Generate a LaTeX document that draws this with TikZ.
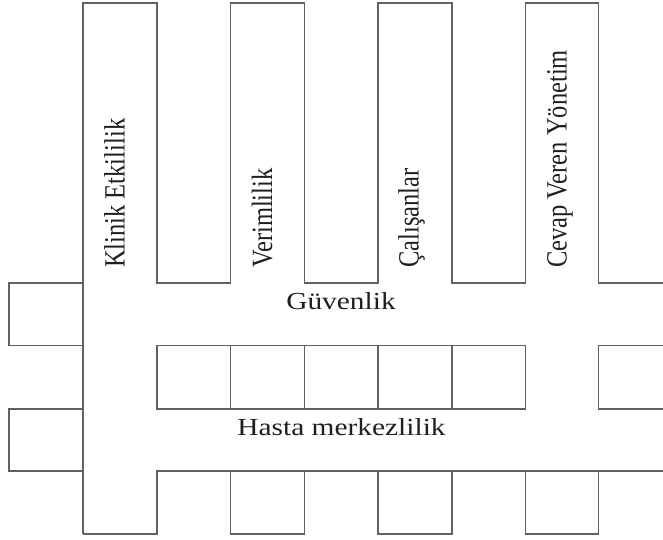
\documentclass[tikz,border=0pt]{standalone}
\usepackage{fontspec}
\setmainfont{Liberation Serif}
\begin{document}
\begin{tikzpicture}[x=1pt, y=-1pt,
  wall/.style={draw=black!62, line width=1.5pt, line join=miter},
  lbl/.style={font=\fontsize{24.5}{29}\selectfont, text=black!88, inner sep=0pt},
  vlbl/.style={lbl, xscale=1.2, rotate=90, anchor=base west},
  hlbl/.style={lbl, xscale=1.2, anchor=base}]
  \useasboundingbox (0,0) rectangle (663,539);

  % column edges
  \def\ca{83}   \def\cb{157}  \def\cc{230.5} \def\cd{304.5}
  \def\ce{378}  \def\cf{452}  \def\cg{525.5} \def\ch{598.5}
  % band edges
  \def\ra{283}  \def\rb{345.5} \def\rc{409} \def\rd{471} \def\re{534}

  % top comb: the four pillars and the upper edge of Güvenlik
  \draw[wall] (\ca,\re) -- (\ca,3) -- (\cb,3) -- (\cb,\ra) -- (\cc,\ra)
    -- (\cc,3) -- (\cd,3) -- (\cd,\ra) -- (\ce,\ra) -- (\ce,3) -- (\cf,3)
    -- (\cf,\ra) -- (\cg,\ra) -- (\cg,3) -- (\ch,3) -- (\ch,\ra) -- (663,\ra);

  % foot of the first pillar and lower edge of Hasta merkezlilik
  \draw[wall] (\ca,\re) -- (\cb,\re) -- (\cb,\rd) -- (663,\rd);
  \draw[wall] (\cg,\rd) -- (\cg,\re) -- (\ch,\re) -- (\ch,\rd);

  % row of cells between the two bands
  \foreach \l/\r in {\cb/\cc, \cc/\cd, \cd/\ce, \ce/\cf, \cf/\cg}
    \draw[wall] (\l,\rb) rectangle (\r,\rc);
  \draw[wall] (663,\rb) -- (\ch,\rb) -- (\ch,\rc) -- (663,\rc);

  % cells below Hasta merkezlilik
  \draw[wall] (\cc,\rd) rectangle (\cd,\re);
  \draw[wall] (\ce,\rd) rectangle (\cf,\re);

  % cells left of the first pillar
  \draw[wall] (\ca,\ra) -- (9,\ra) -- (9,\rb) -- (\ca,\rb);
  \draw[wall] (\ca,\rc) -- (9,\rc) -- (9,\rd) -- (\ca,\rd);

  % labels
  \node[vlbl] (klinik) at (124.5,268) {Klinik Etkililik};
  \node[vlbl] (verim)  at (272,268)   {Verimlilik};
  \node[vlbl] (calis)  at (418.5,268) {Çalışanlar};
  \node[vlbl] (cevap)  at (566.5,268) {Cevap Veren Yönetim};
  \node[hlbl] (guven)  at (341,309.5) {Güvenlik};
  \node[hlbl] (hasta)  at (341.5,435.5) {Hasta merkezlilik};
\end{tikzpicture}
\end{document}
